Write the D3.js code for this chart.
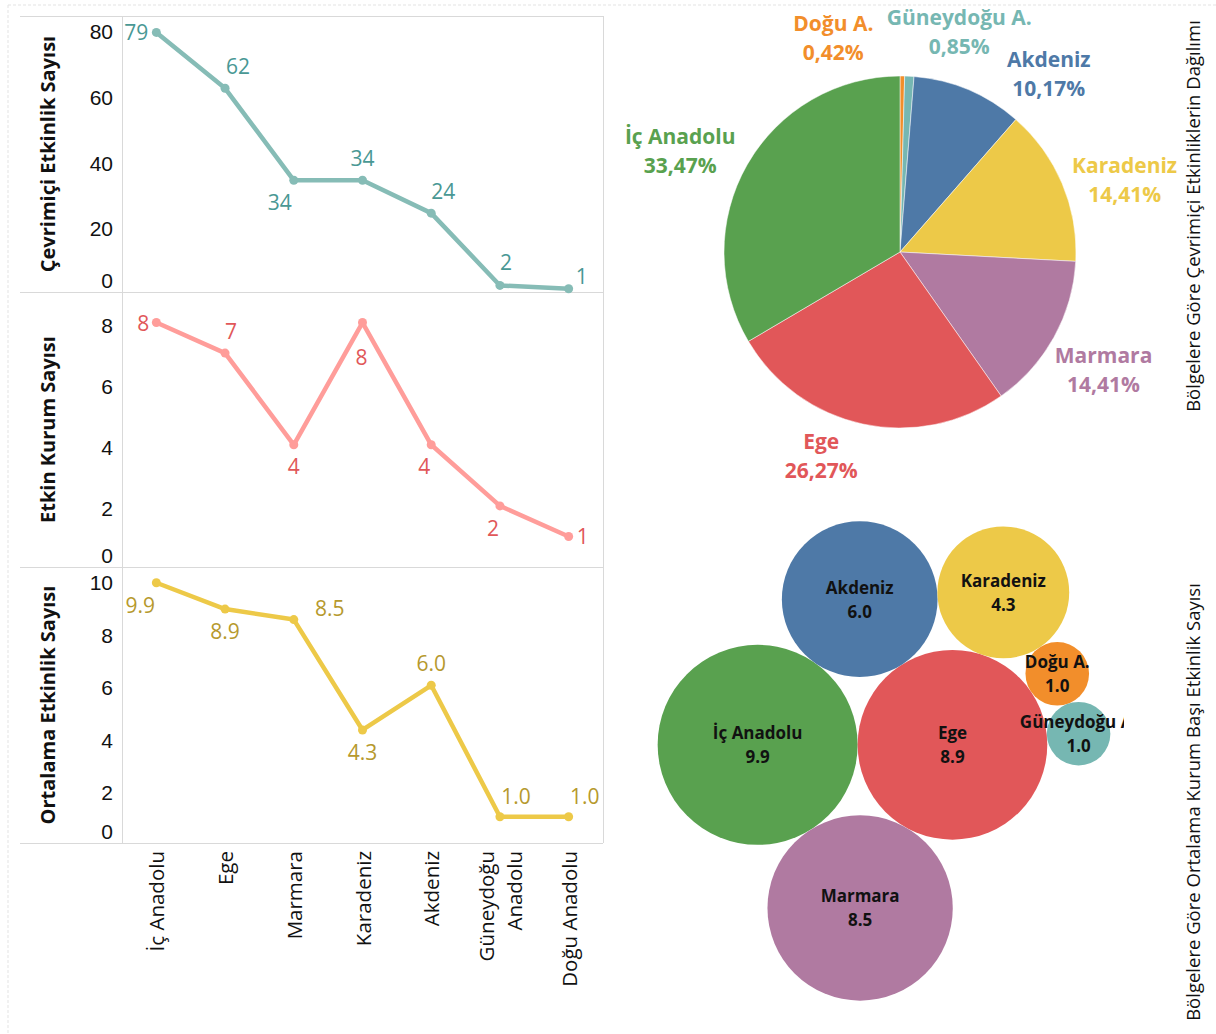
<!DOCTYPE html>
<html>
<head>
<meta charset="utf-8">
<script src="https://cdn.jsdelivr.net/npm/d3@7"></script>
<style>
	body { margin: 0; background: #fff; }
	svg { display: block; font-family: 'Open Sans', sans-serif; }
</style>
</head>
<body>
<svg id="chart" width="1216" height="1034"></svg>
<script>
'use strict';

// regions, in the order of the line charts
var regions = ['İç Anadolu', 'Ege', 'Marmara', 'Karadeniz', 'Akdeniz', 'Güneydoğu Anadolu', 'Doğu Anadolu'];
var shortNames = ['İç Anadolu', 'Ege', 'Marmara', 'Karadeniz', 'Akdeniz', 'Güneydoğu A.', 'Doğu A.'];
var regionColors = ['#59a14f', '#e15759', '#b07aa1', '#edc948', '#4e79a7', '#76b7b2', '#f28e2b'];

var onlineEvents = [79, 62, 34, 34, 24, 2, 1];
var activeInstitutions = [8, 7, 4, 8, 4, 2, 1];
var avgEvents = [9.9, 8.9, 8.5, 4.3, 6.0, 1.0, 1.0];

var onlineTicks = [0, 20, 40, 60, 80];
var institutionTicks = [0, 2, 4, 6, 8];
var avgTicks = [0, 2, 4, 6, 8, 10];

// pie goes clockwise from 12 o'clock in this order (indexes into regions)
var pieOrder = [6, 5, 4, 3, 2, 1, 0];

var lineTitles = ['Çevrimiçi Etkinlik Sayısı', 'Etkin Kurum Sayısı', 'Ortalama Etkinlik Sayısı'];
var pieTitle = 'Bölgelere Göre Çevrimiçi Etkinliklerin Dağılımı';
var bubbleTitle = 'Bölgelere Göre Ortalama Kurum Başı Etkinlik Sayısı';

// ---- layout tweaks (label nudges, bubble tangency), not data ----
var onlineNudge = [[-8, 0, 'end'], [13, -22], [-14, 22], [0, -22], [12, -22], [6, -23], [7, -13, 'start']];
var institutionNudge = [[-7, 0, 'end'], [6, -22], [0, 21], [-1, 34], [-7, 21], [-7, 22], [8, 0, 'start']];
var avgNudge = [[-16, 22], [0, 22], [36, -12], [0, 22], [0, -22], [16, -21], [16, -21]];
// [angle nudge in degrees, radius nudge] per pie slice, in pie order
var pieLabelNudge = [[-18, -7], [12, -4], [17, 0], [5, 4], [1, 3], [9, -14], [-5, 10]];
// bubble placement: [region, touches, touches, side]
var bubbleLayout = [[0], [1, 0], [2, 0, 1, 1], [4, 0, 1, -1], [3, 4, 1, -1], [6, 3, 1, -1], [5, 6, 1, -1]];

var grid = '#d9d9d9';
var svg = d3.select('#chart');

// faint outer dashed frame
svg.append('line').attr('x1', 8).attr('x2', 1216).attr('y1', 5).attr('y2', 5)
	.attr('stroke', '#e3e3e3').attr('stroke-dasharray', '3,2');
svg.append('line').attr('x1', 8).attr('x2', 8).attr('y1', 5).attr('y2', 1034)
	.attr('stroke', '#e3e3e3').attr('stroke-dasharray', '3,2');

// ---------------- line panels ----------------
var left = 122, right = 603;
var x = d3.scalePoint().domain(regions).range([left, right]).padding(0.5);

var panels = [
	{ top: 16, bottom: 292, max: 84, values: onlineEvents, ticks: onlineTicks, nudge: onlineNudge,
		line: '#86bcb6', text: '#499894', fmt: d3.format('d') },
	{ top: 292, bottom: 567, max: 9, values: activeInstitutions, ticks: institutionTicks, nudge: institutionNudge,
		line: '#ff9d9a', text: '#e15759', fmt: d3.format('d') },
	{ top: 567, bottom: 843, max: 10.5, values: avgEvents, ticks: avgTicks, nudge: avgNudge,
		line: '#edc948', text: '#b6992d', fmt: d3.format('.1f') }
];

// frame lines
svg.append('line').attr('x1', 20).attr('x2', right).attr('y1', 16.5).attr('y2', 16.5).attr('stroke', grid);
panels.forEach(function(p){
	svg.append('line').attr('x1', 20).attr('x2', right).attr('y1', p.bottom + 0.5).attr('y2', p.bottom + 0.5).attr('stroke', grid);
});
svg.append('line').attr('x1', left + 0.5).attr('x2', left + 0.5).attr('y1', 16).attr('y2', 843).attr('stroke', grid);
svg.append('line').attr('x1', right + 0.5).attr('x2', right + 0.5).attr('y1', 16).attr('y2', 843).attr('stroke', grid);

panels.forEach(function(p, pi){
	var y = d3.scaleLinear().domain([0, p.max]).range([p.bottom, p.top]);
	var g = svg.append('g');

	// y ticks
	var axis = d3.axisLeft(y).tickValues(p.ticks).tickSize(0).tickPadding(0);
	var ax = g.append('g').attr('transform', 'translate(113,0)').call(axis);
	ax.select('.domain').remove();
	ax.selectAll('text')
		.attr('font-size', 21).attr('fill', '#111').attr('dy', null)
		.attr('dominant-baseline', 'central')
		.attr('y', function(d){ return d === 0 ? -12 : 2; });

	// axis title
	g.append('text')
		.attr('transform', 'translate(47,' + (p.top + p.bottom)/2 + ') rotate(-90)')
		.attr('text-anchor', 'middle').attr('dominant-baseline', 'central')
		.attr('font-size', 20).attr('font-weight', 'bold').attr('fill', '#111')
		.text(lineTitles[pi]);

	var line = d3.line()
		.x(function(d, i){ return x(regions[i]); })
		.y(function(d){ return y(d); });

	g.append('path')
		.datum(p.values)
		.attr('d', line)
		.attr('fill', 'none')
		.attr('stroke', p.line)
		.attr('stroke-width', 4.5)
		.attr('stroke-linejoin', 'round');

	g.selectAll('circle.pt')
		.data(p.values)
		.enter().append('circle')
		.attr('class', 'pt')
		.attr('cx', function(d, i){ return x(regions[i]); })
		.attr('cy', function(d){ return y(d); })
		.attr('r', 4.5)
		.attr('fill', p.line);

	g.selectAll('text.lbl')
		.data(p.values)
		.enter().append('text')
		.attr('class', 'lbl')
		.attr('x', function(d, i){ return x(regions[i]) + p.nudge[i][0]; })
		.attr('y', function(d, i){ return y(d) + p.nudge[i][1]; })
		.attr('text-anchor', function(d, i){ return p.nudge[i][2] || 'middle'; })
		.attr('dominant-baseline', 'central')
		.attr('font-size', 21)
		.attr('fill', p.text)
		.text(p.fmt);
});

// x axis labels (rotated)
var xl = svg.append('g').selectAll('g')
	.data(regions)
	.enter().append('g')
	.attr('transform', function(d){ return 'translate(' + x(d) + ',851) rotate(-90)'; });

xl.append('text')
	.attr('text-anchor', 'end')
	.attr('dominant-baseline', 'central')
	.attr('font-size', 20.5)
	.attr('fill', '#111')
	.each(function(d){
		var words = d === 'Güneydoğu Anadolu' ? ['Güneydoğu', 'Anadolu'] : [d];
		var t = d3.select(this);
		words.forEach(function(w, i){
			t.append('tspan')
				.attr('x', 0)
				.attr('y', (i - (words.length - 1)/2) * 28)
				.text(w);
		});
	});

// ---------------- pie ----------------
var pieCx = 900, pieCy = 252, pieR = 176, labelR = 232;
var total = d3.sum(onlineEvents);
var trFormat = d3.formatLocale({ decimal: ',', thousands: '.', grouping: [3], currency: ['', '₺'] });
var pctFormat = trFormat.format('.2f');

var pie = d3.pie().sort(null).value(function(d){ return onlineEvents[d]; });
var arcs = pie(pieOrder);
var arc = d3.arc().innerRadius(0).outerRadius(pieR);

var pg = svg.append('g').attr('transform', 'translate(' + pieCx + ',' + pieCy + ')');

pg.selectAll('path')
	.data(arcs)
	.enter().append('path')
	.attr('d', arc)
	.attr('fill', function(d){ return regionColors[d.data]; })
	.attr('stroke', '#fff')
	.attr('stroke-width', 0.5);

var pl = pg.selectAll('g.plbl')
	.data(arcs)
	.enter().append('g')
	.attr('class', 'plbl')
	.attr('transform', function(d, i){
		var a = (d.startAngle + d.endAngle)/2 + pieLabelNudge[i][0]*Math.PI/180;
		var r = labelR + pieLabelNudge[i][1];
		return 'translate(' + Math.sin(a)*r + ',' + (-Math.cos(a)*r) + ')';
	});

pl.append('text')
	.attr('text-anchor', 'middle').attr('dominant-baseline', 'central')
	.attr('y', -14.5)
	.attr('font-size', 21).attr('font-weight', 'bold')
	.attr('fill', function(d){ return regionColors[d.data]; })
	.text(function(d){ return shortNames[d.data]; });

pl.append('text')
	.attr('text-anchor', 'middle').attr('dominant-baseline', 'central')
	.attr('y', 14.5)
	.attr('font-size', 21).attr('font-weight', 'bold')
	.attr('fill', function(d){ return regionColors[d.data]; })
	.text(function(d){ return pctFormat(onlineEvents[d.data]/total*100) + '%'; });

svg.append('text')
	.attr('transform', 'translate(1192,216) rotate(-90)')
	.attr('text-anchor', 'middle').attr('dominant-baseline', 'central')
	.attr('font-size', 18.5).attr('fill', '#111')
	.text(pieTitle);

// ---------------- packed bubbles ----------------
var rScale = d3.scaleSqrt().domain([0, d3.max(avgEvents)]).range([0, 100]);
var bubbles = [];
var byRegion = {};

function touch(a, b, r, side){
	var dx = b.x - a.x, dy = b.y - a.y;
	var d = Math.sqrt(dx*dx + dy*dy);
	var da = a.r + r, db = b.r + r;
	var along = (d*d + da*da - db*db)/(2*d);
	var h = Math.sqrt(Math.max(0, da*da - along*along));
	var ux = dx/d, uy = dy/d;
	return { x: a.x + along*ux - side*h*uy, y: a.y + along*uy + side*h*ux };
}

bubbleLayout.forEach(function(l){
	var i = l[0];
	var b = { i: i, r: rScale(avgEvents[i]), x: 0, y: 0 };
	if(l.length === 2){
		var a = byRegion[l[1]];
		b.x = a.x + a.r + b.r;
		b.y = a.y;
	} else if(l.length === 4){
		var p = touch(byRegion[l[1]], byRegion[l[2]], b.r, l[3]);
		b.x = p.x;
		b.y = p.y;
	}
	byRegion[i] = b;
	bubbles.push(b);
});

var bx0 = d3.min(bubbles, function(b){ return b.x - b.r; });
var bx1 = d3.max(bubbles, function(b){ return b.x + b.r; });
var by0 = d3.min(bubbles, function(b){ return b.y - b.r; });
var by1 = d3.max(bubbles, function(b){ return b.y + b.r; });
var shiftX = 884 - (bx0 + bx1)/2;
var shiftY = 761 - (by0 + by1)/2;

svg.append('clipPath').attr('id', 'bubbleClip')
	.append('rect').attr('x', 620).attr('y', 500).attr('width', 504).attr('height', 534);

var bg = svg.append('g')
	.attr('clip-path', 'url(#bubbleClip)')
	.append('g')
	.attr('transform', 'translate(' + shiftX + ',' + shiftY + ')');

var node = bg.selectAll('g')
	.data(bubbles)
	.enter().append('g')
	.attr('transform', function(b){ return 'translate(' + b.x + ',' + b.y + ')'; });

node.append('circle')
	.attr('r', function(b){ return b.r; })
	.attr('fill', function(b){ return regionColors[b.i]; });

node.append('text')
	.attr('text-anchor', 'middle').attr('dominant-baseline', 'central')
	.attr('y', -12)
	.attr('font-size', 17).attr('font-weight', 'bold').attr('fill', '#111')
	.text(function(b){ return shortNames[b.i]; });

node.append('text')
	.attr('text-anchor', 'middle').attr('dominant-baseline', 'central')
	.attr('y', 12)
	.attr('font-size', 17).attr('font-weight', 'bold').attr('fill', '#111')
	.text(function(b){ return d3.format('.1f')(avgEvents[b.i]); });

svg.append('text')
	.attr('transform', 'translate(1192,802) rotate(-90)')
	.attr('text-anchor', 'middle').attr('dominant-baseline', 'central')
	.attr('font-size', 18.5).attr('fill', '#111')
	.text(bubbleTitle);
</script>
</body>
</html>
